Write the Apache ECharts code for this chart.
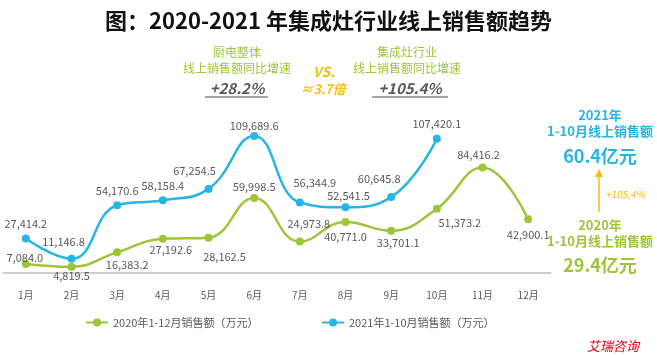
<!DOCTYPE html>
<html><head><meta charset="utf-8">
<script src="https://cdn.jsdelivr.net/npm/echarts@6/dist/echarts.min.js"></script>
<style>html,body{margin:0;padding:0;background:#fff}#c{width:657px;height:358px}</style>
</head><body><div id="c"></div>
<script>
var categories = ['1月','2月','3月','4月','5月','6月','7月','8月','9月','10月','11月','12月'];
var sales2020 = [7084.0, 4819.5, 16383.2, 27192.6, 28162.5, 59998.5, 24973.8, 40771.0, 33701.1, 51373.2, 84416.2, 42900.1];
var sales2021 = [27414.2, 11146.8, 54170.6, 58158.4, 67254.5, 109689.6, 56344.9, 52541.5, 60645.8, 107420.1];
var seriesNames = ['2020年1-12月销售额（万元）', '2021年1-10月销售额（万元）'];

var GREEN = '#9ec53a', BLUE = '#27b5e6', GOLD = '#f5bd10', GRAY = '#595959';
var pos2020 = ['top','bottom','bottom','bottom','bottom','top','top','bottom','bottom','bottom','top','bottom'];
var off2020 = [[-1,8],[0,-5],[10,-2],[8,-4],[16,5],[0,3],[9,-3],[0,0],[7,-2],[23,0],[-4,2],[0,1]];
var off2021 = [[0,0],[-8,-3],[0,0],[0,0],[-14,-4],[0,4],[15,-5],[3,3],[-12,-4],[0,0]];

function fmt(v){ return v.toLocaleString('en-US',{minimumFractionDigits:1,maximumFractionDigits:1}); }
function mk(vals, pos, off){
  return vals.map(function(v,i){
    return {value:v, label:{position: pos ? pos[i] : 'top', offset: off[i]}};
  });
}
var chart = echarts.init(document.getElementById('c'));
var F = '"Noto Sans CJK SC","Noto Sans",sans-serif';
function txt(x,y,s,size,color,extra){
  var st = {text:s, x:x, y:y, fill:color, font:(extra||'') + ' ' + size + 'px ' + F, textAlign:'center', textVerticalAlign:'middle'};
  return {type:'text', style:st, z:10};
}
chart.setOption({
  animation:false,
  textStyle:{fontFamily:F},
  title:{text:'图：2020-2021 年集成灶行业线上销售额趋势', left:'center', top:5,
    textStyle:{fontSize:22, fontWeight:'bold', color:'#111', fontFamily:F}},
  legend:[
    {data:[seriesNames[0]], left:80, top:312, itemWidth:22, itemHeight:10, textStyle:{color:GRAY, fontSize:11}},
    {data:[seriesNames[1]], left:316, top:312, itemWidth:22, itemHeight:10, textStyle:{color:GRAY, fontSize:11}}
  ],
  grid:{left:3, right:106, top:100, bottom:74},
  xAxis:{type:'category', data:categories, boundaryGap:true,
    axisLine:{lineStyle:{color:'#c0c0c0', width:1.5}}, axisTick:{show:false},
    axisLabel:{color:GRAY, fontSize:10, margin:6}},
  yAxis:{type:'value', min:-9000, max:138500, show:false, splitLine:{show:false}},
  series:[
    {name:seriesNames[0], type:'line', smooth:0.45, data:mk(sales2020,pos2020,off2020),
      symbol:'circle', symbolSize:8, itemStyle:{color:GREEN}, lineStyle:{color:GREEN, width:2.5},
      label:{show:true, color:GRAY, fontSize:11, formatter:function(p){return fmt(p.value);}}},
    {name:seriesNames[1], type:'line', smooth:0.45, data:mk(sales2021,null,off2021),
      symbol:'circle', symbolSize:8, itemStyle:{color:BLUE}, lineStyle:{color:BLUE, width:2.5},
      label:{show:true, color:GRAY, fontSize:11, formatter:function(p){return fmt(p.value);}}}
  ],
  graphic:[
    txt(237,52,'厨电整体',12,GREEN),
    txt(237,68,'线上销售额同比增速',12,GREEN),
    txt(237,88,'+28.2%',15,GRAY,'italic bold'),
    {type:'line', shape:{x1:205,y1:97,x2:268,y2:97}, style:{stroke:'#888', lineWidth:1.5}},
    txt(324,72,'VS.',14,GOLD,'italic bold'),
    txt(323,89,'≈3.7倍',13,GOLD,'italic bold'),
    txt(407,52,'集成灶行业',12,GREEN),
    txt(407,68,'线上销售额同比增速',12,GREEN),
    txt(410,88,'+105.4%',15,GRAY,'italic bold'),
    {type:'line', shape:{x1:372,y1:97,x2:448,y2:97}, style:{stroke:'#888', lineWidth:1.5}},
    txt(600,115,'2021年',13,BLUE,'bold'),
    txt(600,131,'1-10月线上销售额',13,BLUE,'bold'),
    txt(600,156,'60.4亿元',18,BLUE,'bold'),
    {type:'line', shape:{x1:599,y1:212,x2:599,y2:176}, style:{stroke:GOLD, lineWidth:1.5}},
    {type:'polygon', shape:{points:[[595,177],[603,177],[599,169]]}, style:{fill:GOLD}},
    txt(625,194,'+105.4%',10,GOLD,'italic'),
    txt(600,225,'2020年',13,GREEN,'bold'),
    txt(600,241,'1-10月线上销售额',13,GREEN,'bold'),
    txt(600,265,'29.4亿元',18,GREEN,'bold'),
    txt(613,346,'艾瑞咨询',13,'#e60012','italic')
  ]
});
</script></body></html>
